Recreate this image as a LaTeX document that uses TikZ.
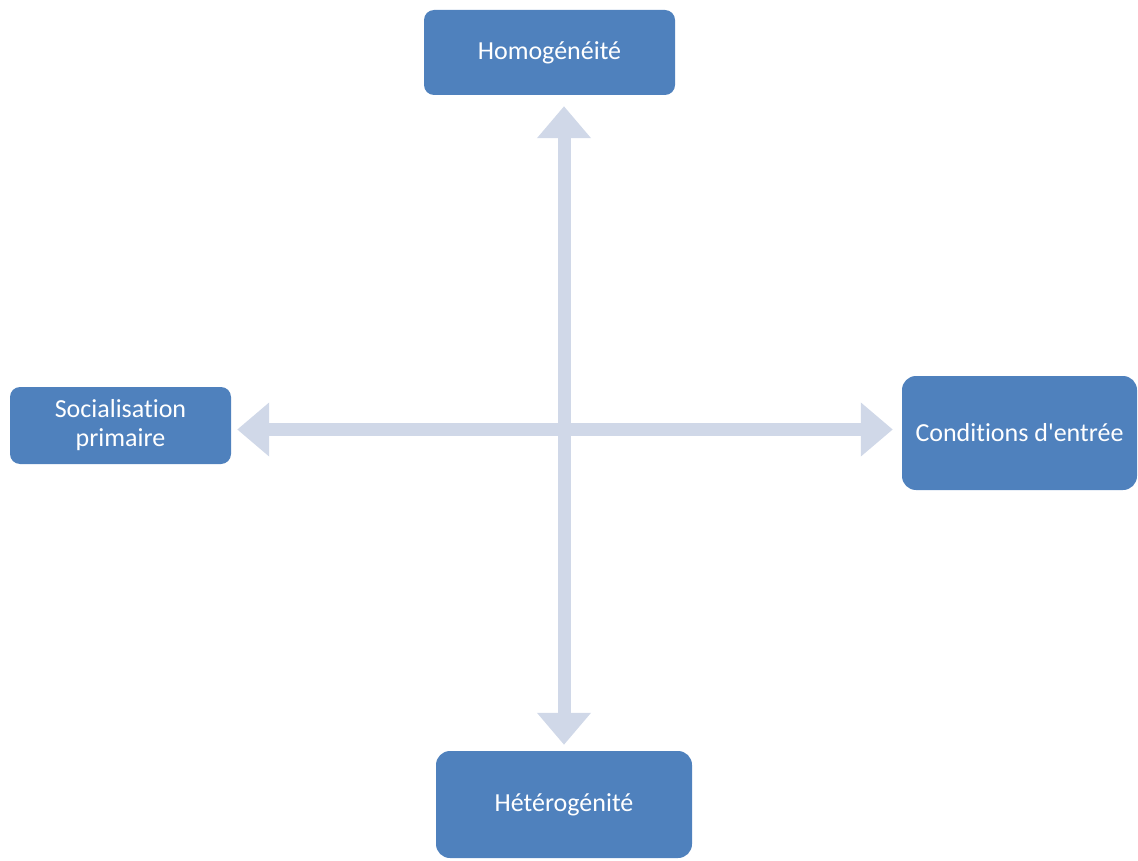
\documentclass[tikz,border=0pt]{standalone}
\usepackage{fontspec}
\setmainfont{Carlito}[Ligatures=NoCommon]
\usetikzlibrary{arrows.meta}
\definecolor{boxblue}{HTML}{4F81BD}
\definecolor{axisgray}{HTML}{D0D8E8}
\begin{document}
\begin{tikzpicture}[x=1pt,y=-1pt,
  box/.style={rectangle, fill=boxblue, text=white, align=center, inner sep=0pt,
    font=\fontsize{26}{29}\selectfont},
  axis/.style={draw=axisgray, line width=13pt,
    {Triangle[length=32pt,width=52pt]}-{Triangle[length=32pt,width=52pt]}}]
\useasboundingbox (0,0) rectangle (1138,861);
\node[box, rounded corners=10pt, minimum width=251pt, minimum height=85pt] (homo) at (549.5,52.5) {Homogénéité};
\node[box, rounded corners=10pt, minimum width=221pt, minimum height=77pt] (soc) at (120.5,425.5) {Socialisation\\primaire};
\node[box, rounded corners=14pt, minimum width=235pt, minimum height=114pt] (cond) at (1019.5,433) {Conditions d\textquotesingle entrée};
\node[box, rounded corners=14pt, minimum width=256pt, minimum height=107pt] (hetero) at (564,804.5) {Hétérogénité};
\coordinate (c) at (564,429.5);
\draw[axis] ([yshift=-11pt]c |- homo.south) -- ([yshift=6pt]c |- hetero.north);
\draw[axis] ([xshift=6pt]c -| soc.east) -- ([xshift=-9pt]c -| cond.west);
\end{tikzpicture}
\end{document}
